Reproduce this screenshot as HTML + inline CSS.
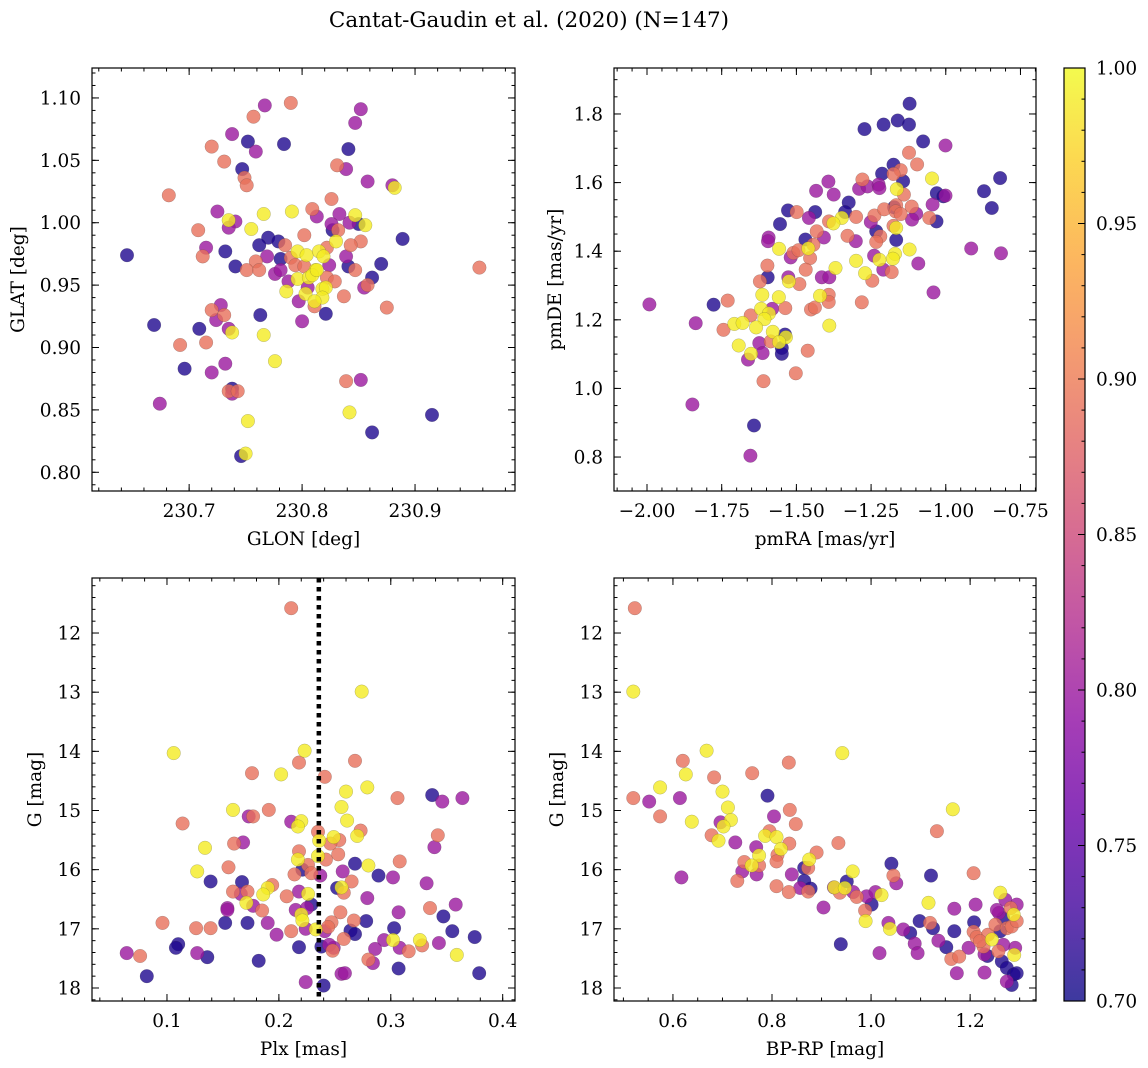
<!DOCTYPE html>
<html><head><meta charset="utf-8"><title>Cantat-Gaudin et al. (2020)</title>
<style>
html,body{margin:0;padding:0;background:#fff;}
svg{display:block;font-family:"DejaVu Serif","Liberation Serif",serif;}
</style></head>
<body>
<svg id="fig" width="1148" height="1068" viewBox="0 0 1148 1068" xmlns="http://www.w3.org/2000/svg">
<defs>
<linearGradient id="cbgrad" x1="0" y1="1" x2="0" y2="0">
<stop offset="0" stop-color="#0d0887"/><stop offset="0.1" stop-color="#41049d"/><stop offset="0.2" stop-color="#6a00a8"/><stop offset="0.3" stop-color="#8f0da4"/><stop offset="0.4" stop-color="#b12a90"/><stop offset="0.5" stop-color="#cc4778"/><stop offset="0.6" stop-color="#e16462"/><stop offset="0.7" stop-color="#f2844b"/><stop offset="0.8" stop-color="#fca636"/><stop offset="0.9" stop-color="#fcce25"/><stop offset="1" stop-color="#f0f921"/>
</linearGradient>
</defs>
<text x="529" y="27" text-anchor="middle" font-size="21.5">Cantat-Gaudin et al. (2020) (N=147)</text>
<g id="panels"></g>
<g id="colorbar">
<rect x="1064" y="68" width="21" height="933" fill="url(#cbgrad)" opacity="0.8"/>
<rect x="1064" y="68" width="21" height="933" fill="none" stroke="#000" stroke-width="1.2"/>
</g>
</svg>
<script>
// ---------- data ----------
const glon=[230.767,230.790,230.757,230.852,230.847,230.738,230.752,230.720,230.784,230.759,230.841,230.731,230.747,230.831,230.839,230.749,230.751,230.858,230.880,230.882,230.682,230.826,230.725,230.735,230.741,230.735,230.766,230.791,230.809,230.813,230.833,230.847,230.826,230.842,230.850,230.856,230.827,230.832,230.708,230.755,230.802,230.889,230.770,230.762,230.779,230.830,230.852,230.843,230.715,230.785,230.732,230.645,230.712,230.769,230.781,230.790,230.796,230.804,230.815,230.819,230.822,230.839,230.759,230.751,230.762,230.776,230.781,230.741,230.794,230.802,230.812,230.824,230.841,230.847,230.870,230.957,230.788,230.796,230.806,230.809,230.813,230.822,230.829,230.862,230.858,230.855,230.786,230.805,230.803,230.818,230.821,230.818,230.837,230.797,230.811,230.811,230.875,230.821,230.800,230.763,230.720,230.728,230.731,230.724,230.669,230.709,230.735,230.738,230.766,230.692,230.715,230.776,230.696,230.732,230.720,230.839,230.852,230.738,230.735,230.743,230.738,230.674,230.842,230.915,230.752,230.862,230.746,230.750];
const glat=[1.094,1.096,1.085,1.091,1.080,1.071,1.065,1.061,1.063,1.057,1.059,1.049,1.043,1.046,1.043,1.036,1.030,1.033,1.030,1.028,1.022,1.019,1.009,1.002,1.001,0.996,1.007,1.009,1.011,1.005,1.007,1.006,0.999,1.000,0.999,0.998,0.994,0.994,0.994,0.995,0.990,0.987,0.988,0.982,0.985,0.985,0.985,0.982,0.980,0.982,0.977,0.974,0.973,0.973,0.971,0.972,0.977,0.974,0.977,0.973,0.980,0.973,0.969,0.962,0.962,0.959,0.962,0.965,0.966,0.965,0.962,0.966,0.965,0.962,0.967,0.964,0.953,0.955,0.956,0.958,0.962,0.956,0.953,0.956,0.950,0.948,0.945,0.948,0.943,0.947,0.948,0.940,0.941,0.937,0.937,0.933,0.932,0.927,0.921,0.926,0.930,0.934,0.926,0.922,0.918,0.915,0.915,0.912,0.910,0.902,0.904,0.889,0.883,0.887,0.880,0.873,0.874,0.867,0.865,0.865,0.863,0.855,0.848,0.846,0.841,0.832,0.813,0.815];
const prob1=[.8,.89,.89,.8,.8,.8,.71,.89,.71,.8,.71,.89,.71,.89,.8,.89,.89,.8,.8,.99,.89,.89,.8,.99,.8,.8,.99,.99,.89,.8,.8,.99,.8,.8,.71,.99,.71,.89,.89,.99,.89,.71,.71,.71,.71,.99,.89,.89,.8,.89,.71,.71,.89,.8,.71,.89,.99,.99,.99,.99,.89,.8,.89,.89,.89,.8,.8,.71,.89,.89,.99,.8,.71,.89,.71,.89,.8,.99,.99,.99,.99,.89,.89,.71,.89,.8,.99,.8,.99,.99,.99,.99,.89,.8,.99,.89,.89,.71,.8,.71,.89,.8,.89,.8,.71,.71,.8,.99,.99,.89,.89,.99,.71,.8,.8,.89,.8,.71,.89,.89,.8,.8,.99,.71,.99,.71,.71,.99];

const pmra=[-1.121,-1.272,-1.208,-1.161,-1.123,-1.076,-1.001,-1.123,-1.096,-1.175,-1.151,-1.213,-1.175,-1.046,-0.818,-1.279,-1.143,-1.393,-1.434,-1.375,-1.290,-1.262,-1.225,-1.222,-1.164,-1.140,-1.030,-1.001,-1.008,-0.872,-0.846,-1.325,-1.528,-1.499,-1.437,-1.337,-1.348,-1.458,-1.555,-1.391,-1.376,-1.300,-1.251,-1.239,-1.206,-1.173,-1.166,-1.168,-1.151,-1.114,-1.099,-1.113,-1.044,-1.055,-1.031,-1.432,-1.408,-1.329,-1.233,-1.219,-1.301,-1.233,-1.166,-1.175,-1.166,-1.593,-1.595,-1.470,-1.460,-1.443,-1.558,-1.519,-1.510,-1.493,-1.454,-1.300,-1.240,-1.222,-1.170,-1.177,-1.121,-1.092,-0.915,-0.815,-1.597,-1.469,-1.369,-1.270,-1.209,-1.181,-1.596,-1.622,-1.527,-1.525,-1.490,-1.415,-1.390,-1.246,-1.614,-1.559,-1.421,-1.392,-1.392,-1.281,-1.041,-1.730,-1.777,-1.992,-1.537,-1.618,-1.581,-1.592,-1.607,-1.451,-1.438,-1.837,-1.708,-1.680,-1.653,-1.635,-1.744,-1.390,-1.579,-1.538,-1.535,-1.586,-1.558,-1.624,-1.693,-1.549,-1.613,-1.549,-1.462,-1.652,-1.662,-1.502,-1.610,-1.848,-1.642,-1.654];
const pmde=[1.830,1.756,1.769,1.781,1.769,1.720,1.708,1.687,1.653,1.652,1.636,1.626,1.625,1.612,1.613,1.609,1.604,1.603,1.576,1.565,1.582,1.589,1.594,1.584,1.581,1.565,1.569,1.562,1.560,1.575,1.526,1.542,1.519,1.514,1.514,1.514,1.497,1.497,1.479,1.487,1.481,1.500,1.485,1.504,1.522,1.528,1.534,1.516,1.508,1.530,1.509,1.492,1.536,1.497,1.487,1.458,1.440,1.445,1.458,1.443,1.429,1.427,1.468,1.474,1.433,1.440,1.429,1.434,1.408,1.419,1.407,1.382,1.395,1.403,1.380,1.372,1.387,1.375,1.392,1.378,1.405,1.364,1.408,1.394,1.358,1.346,1.351,1.336,1.346,1.339,1.324,1.312,1.324,1.312,1.304,1.324,1.324,1.314,1.273,1.266,1.270,1.273,1.252,1.251,1.280,1.256,1.244,1.245,1.234,1.232,1.232,1.218,1.202,1.230,1.236,1.190,1.188,1.191,1.213,1.178,1.171,1.183,1.165,1.157,1.149,1.137,1.135,1.132,1.125,1.118,1.103,1.101,1.110,1.101,1.084,1.044,1.021,0.953,0.892,0.804];
const prob2=[.71,.71,.71,.71,.71,.71,.8,.89,.89,.71,.89,.71,.89,.99,.71,.89,.71,.8,.8,.8,.8,.8,.8,.8,.99,.89,.71,.8,.71,.71,.71,.71,.71,.89,.71,.71,.99,.8,.71,.89,.99,.89,.8,.89,.89,.71,.89,.89,.89,.89,.8,.8,.8,.89,.71,.89,.8,.89,.71,.89,.8,.89,.99,.89,.71,.8,.8,.71,.99,.89,.99,.8,.89,.89,.89,.99,.8,.99,.99,.99,.99,.8,.8,.8,.89,.89,.99,.99,.8,.89,.71,.89,.8,.99,.89,.8,.8,.89,.99,.99,.99,.89,.89,.89,.8,.89,.71,.8,.89,.99,.8,.99,.99,.89,.89,.8,.99,.99,.89,.99,.89,.99,.99,.71,.99,.89,.99,.8,.99,.71,.8,.71,.89,.99,.8,.89,.89,.8,.71,.8];

const plx=[0.211,0.274,0.106,0.223,0.218,0.268,0.176,0.202,0.241,0.260,0.279,0.306,0.337,0.346,0.364,0.159,0.191,0.173,0.177,0.256,0.114,0.211,0.220,0.217,0.261,0.273,0.235,0.249,0.254,0.246,0.236,0.270,0.342,0.339,0.134,0.160,0.168,0.253,0.218,0.217,0.235,0.242,0.226,0.308,0.268,0.280,0.155,0.127,0.214,0.221,0.229,0.237,0.257,0.289,0.302,0.139,0.167,0.194,0.190,0.186,0.265,0.252,0.256,0.258,0.332,0.159,0.172,0.166,0.207,0.218,0.226,0.279,0.229,0.171,0.177,0.154,0.154,0.185,0.215,0.225,0.220,0.255,0.335,0.358,0.307,0.221,0.347,0.096,0.152,0.172,0.190,0.247,0.267,0.278,0.126,0.139,0.211,0.224,0.233,0.244,0.241,0.264,0.268,0.303,0.355,0.198,0.258,0.294,0.302,0.326,0.328,0.343,0.375,0.110,0.108,0.218,0.238,0.249,0.245,0.286,0.308,0.316,0.359,0.064,0.076,0.127,0.136,0.182,0.248,0.280,0.284,0.307,0.082,0.256,0.259,0.224,0.240,0.379];
const gmag3=[11.58,12.99,14.03,13.99,14.19,14.16,14.37,14.39,14.43,14.68,14.61,14.79,14.74,14.85,14.79,14.99,14.99,15.10,15.10,14.94,15.22,15.19,15.18,15.27,15.17,15.34,15.36,15.45,15.50,15.56,15.51,15.43,15.42,15.62,15.63,15.56,15.54,15.74,15.69,15.83,15.77,15.83,15.92,15.86,15.90,15.93,15.96,16.03,16.08,16.00,16.06,16.10,16.03,16.10,16.13,16.20,16.21,16.26,16.31,16.42,16.20,16.31,16.30,16.39,16.23,16.37,16.37,16.41,16.45,16.37,16.41,16.48,16.59,16.56,16.61,16.65,16.68,16.69,16.68,16.65,16.76,16.72,16.65,16.59,16.72,16.86,16.79,16.90,16.90,16.90,16.90,16.89,16.86,16.87,16.99,16.99,17.04,17.00,17.01,16.97,17.04,17.03,17.09,16.99,17.04,17.10,17.17,17.19,17.19,17.19,17.28,17.24,17.14,17.26,17.32,17.31,17.30,17.32,17.27,17.34,17.32,17.38,17.44,17.41,17.46,17.41,17.48,17.54,17.37,17.52,17.58,17.67,17.80,17.76,17.75,17.90,17.96,17.75];
const prob3=[.89,.99,.99,.99,.89,.89,.89,.99,.89,.99,.99,.89,.71,.8,.8,.99,.89,.8,.89,.99,.89,.8,.99,.99,.99,.89,.89,.99,.89,.89,.99,.99,.89,.8,.99,.89,.8,.89,.89,.99,.99,.89,.89,.89,.71,.99,.89,.99,.89,.71,.89,.8,.8,.71,.8,.71,.71,.89,.99,.99,.89,.71,.99,.89,.8,.89,.89,.8,.89,.8,.99,.8,.71,.99,.8,.8,.8,.89,.8,.8,.99,.89,.89,.8,.8,.99,.71,.89,.71,.71,.8,.89,.89,.71,.89,.89,.89,.8,.99,.89,.8,.71,.71,.71,.71,.8,.89,.8,.99,.99,.89,.8,.71,.71,.71,.71,.71,.8,.8,.8,.8,.89,.99,.8,.89,.8,.71,.71,.89,.89,.8,.71,.71,.8,.8,.8,.71,.71];

const bprp=[0.523,0.520,0.668,0.620,0.942,0.834,0.626,0.683,0.760,0.574,0.520,0.552,0.614,0.791,0.700,0.711,0.574,0.638,0.717,0.696,0.702,0.804,0.836,0.848,1.165,0.678,0.692,0.726,0.795,0.786,0.809,0.818,0.811,0.809,0.835,0.890,0.934,1.133,0.768,0.774,0.744,0.759,0.774,0.769,0.740,0.730,0.875,0.865,0.873,1.041,1.045,1.051,1.121,0.963,1.207,0.617,0.840,0.809,0.865,0.878,0.857,0.873,0.834,0.926,0.937,0.951,0.947,0.964,0.971,0.925,0.991,1.009,1.021,1.001,0.988,0.989,0.904,1.035,1.038,1.065,1.079,1.098,1.119,1.125,1.116,1.168,1.211,1.208,1.168,1.136,1.088,1.094,1.017,0.939,1.152,1.162,1.178,1.173,1.197,1.207,1.213,1.227,1.236,1.229,1.235,1.229,1.244,1.251,1.258,1.261,1.271,1.254,1.267,1.274,1.284,1.294,1.288,1.294,1.282,1.291,1.289,1.261,1.267,1.264,1.274,1.288,1.294,1.274,1.284,1.257,1.220];
const gmag4=[11.58,12.99,13.99,14.16,14.03,14.19,14.39,14.44,14.37,14.61,14.79,14.85,14.79,14.75,14.68,14.95,15.10,15.19,15.16,15.20,15.27,15.10,14.99,15.23,14.98,15.42,15.51,15.54,15.35,15.43,15.45,15.65,15.75,15.86,15.56,15.71,15.55,15.35,15.62,15.76,15.87,15.93,15.93,16.08,16.03,16.19,15.83,15.97,15.97,15.90,16.10,16.23,16.10,16.03,16.06,16.13,16.08,16.28,16.19,16.32,16.31,16.37,16.38,16.30,16.39,16.20,16.31,16.38,16.46,16.30,16.45,16.38,16.43,16.59,16.69,16.87,16.64,16.90,17.00,17.01,17.07,16.87,16.90,16.99,16.56,16.66,16.59,16.89,17.04,17.20,17.25,17.41,17.41,17.26,17.31,17.51,17.47,17.75,17.32,17.05,17.14,17.30,17.10,17.43,17.46,17.74,17.18,16.93,16.73,16.39,16.51,16.68,16.82,16.99,16.96,16.87,16.76,16.59,16.65,17.32,17.44,17.04,17.27,17.55,17.66,17.77,17.75,17.89,17.95,17.38,17.21];
const prob4=[.89,.99,.99,.89,.99,.89,.99,.89,.89,.99,.89,.8,.8,.71,.99,.99,.89,.99,.99,.8,.99,.8,.89,.89,.99,.89,.99,.8,.89,.99,.99,.99,.89,.89,.89,.89,.89,.89,.8,.99,.89,.99,.89,.8,.8,.89,.99,.71,.89,.71,.89,.8,.71,.99,.89,.8,.8,.89,.71,.71,.8,.89,.89,.99,.89,.71,.99,.8,.89,.8,.8,.8,.99,.71,.89,.99,.8,.8,.99,.8,.71,.71,.89,.71,.99,.8,.8,.71,.71,.8,.8,.8,.8,.71,.71,.89,.89,.8,.8,.89,.89,.89,.89,.8,.71,.8,.99,.89,.8,.99,.8,.8,.71,.89,.89,.89,.99,.8,.89,.8,.99,.71,.8,.71,.71,.71,.71,.8,.71,.89,.89];

const xTicks1=[230.7,230.8,230.9], yTicks1=[0.80,0.85,0.90,0.95,1.00,1.05,1.10];
const xTicks2=[-2.00,-1.75,-1.50,-1.25,-1.00,-0.75], yTicks2=[0.8,1.0,1.2,1.4,1.6,1.8];
const xTicks3=[0.1,0.2,0.3,0.4], yTicks3=[12,13,14,15,16,17,18];
const xTicks4=[0.6,0.8,1.0,1.2], yTicks4=yTicks3;
const cbTicks=[0.70,0.75,0.80,0.85,0.90,0.95,1.00];
const plxMedian=0.2357;

// ---------- helpers ----------
const NS="http://www.w3.org/2000/svg";
const FS=18.5;
function mk(tag,attrs,parent){const e=document.createElementNS(NS,tag);for(const k in attrs)e.setAttribute(k,attrs[k]);if(parent)parent.appendChild(e);return e;}
const plasma=["#0d0887","#41049d","#6a00a8","#8f0da4","#b12a90","#cc4778","#e16462","#f2844b","#fca636","#fcce25","#f0f921"];
function hex(h){return [parseInt(h.slice(1,3),16),parseInt(h.slice(3,5),16),parseInt(h.slice(5,7),16)];}
function cmap(p){let t=(p-0.7)/0.3;t=Math.max(0,Math.min(1,t));const f=t*10,i=Math.min(9,Math.floor(f)),r=f-i;const a=hex(plasma[i]),b=hex(plasma[i+1]);return "rgb("+a.map((v,k)=>Math.round(v+(b[k]-v)*r)).join(",")+")";}
function fmt(v,d){return (v<0?"\u2212":"")+Math.abs(v).toFixed(d);}
function ticksRange(lo,hi,step){const out=[];const s=Math.ceil(lo/step-1e-6);for(let k=s;k*step<=hi+1e-9;k++)out.push(k*step);return out;}

const root=document.getElementById("panels");
function panel(cfg){
  const g=mk("g",{},root);
  
  
  const [L,T,R,B]=cfg.box;
  const sx=v=>L+(v-cfg.xd[0])/(cfg.xd[1]-cfg.xd[0])*(R-L);
  const sy=cfg.inv? v=>T+(v-cfg.yd[0])/(cfg.yd[1]-cfg.yd[0])*(B-T) : v=>B-(v-cfg.yd[0])/(cfg.yd[1]-cfg.yd[0])*(B-T);
  const clip=mk("clipPath",{id:"clip-"+cfg.name},g);
  mk("rect",{x:L,y:T,width:R-L,height:B-T},clip);
  const pts=mk("g",{"clip-path":"url(#clip-"+cfg.name+")"},g);
  
  
  const idx=cfg.x.map((_,i)=>i).sort((a,b)=>cfg.p[a]-cfg.p[b]);
  idx.forEach(i=>{
    const c=mk("circle",{cx:sx(cfg.x[i]).toFixed(1),cy:sy(cfg.y[i]).toFixed(1),r:6.8,fill:cmap(cfg.p[i]),"fill-opacity":0.8,stroke:"rgba(60,60,60,0.35)","stroke-width":0.5},pts);
    
    
  });
  if(cfg.vline!==undefined){
    const ln=mk("line",{x1:sx(cfg.vline),x2:sx(cfg.vline),y1:T,y2:B,stroke:"#000","stroke-width":4.5,"stroke-dasharray":"4.5 4.5"},g);
    
    
  }
  const fr=mk("rect",{x:L,y:T,width:R-L,height:B-T,fill:"none",stroke:"#000","stroke-width":1.2},g);
  
  
  const tk=mk("g",{stroke:"#000","stroke-width":1},g);
  ticksRange(cfg.xd[0],cfg.xd[1],cfg.xminor).forEach(v=>{const x=sx(v);mk("line",{x1:x,x2:x,y1:B,y2:B-3.5},tk);mk("line",{x1:x,x2:x,y1:T,y2:T+3.5},tk);});
  ticksRange(cfg.yd[0],cfg.yd[1],cfg.yminor).forEach(v=>{const y=sy(v);mk("line",{x1:L,x2:L+3.5,y1:y,y2:y},tk);mk("line",{x1:R,x2:R-3.5,y1:y,y2:y},tk);});
  cfg.xt.forEach(v=>{const x=sx(v);mk("line",{x1:x,x2:x,y1:B,y2:B-7},tk);mk("line",{x1:x,x2:x,y1:T,y2:T+7},tk);
    const t=mk("text",{x:x,y:B+26,"text-anchor":"middle","font-size":FS},g);t.textContent=fmt(v,cfg.xdec);
    
    });
  cfg.yt.forEach(v=>{const y=sy(v);mk("line",{x1:L,x2:L+7,y1:y,y2:y},tk);mk("line",{x1:R,x2:R-7,y1:y,y2:y},tk);
    const t=mk("text",{x:L-11,y:y+6.5,"text-anchor":"end","font-size":FS},g);t.textContent=fmt(v,cfg.ydec);
    
    });
  const xl=mk("text",{x:(L+R)/2,y:B+54,"text-anchor":"middle","font-size":FS},g);xl.textContent=cfg.xlab;
  
  
  const yx=cfg.ylx, yy=(T+B)/2;
  const yl=mk("text",{x:yx,y:yy,"text-anchor":"middle","font-size":FS,transform:"rotate(-90 "+yx+" "+yy+")"},g);yl.textContent=cfg.ylab;
  
  
}
panel({name:"glon-glat-panel",box:[92,68,515,491],xd:[230.614,230.9885],yd:[0.785,1.124],x:glon,y:glat,p:prob1,xt:xTicks1,yt:yTicks1,xminor:0.02,yminor:0.01,xdec:1,ydec:2,xlab:"GLON [deg]",ylab:"GLAT [deg]",ylx:24});
panel({name:"pm-panel",box:[614,68,1036,491],xd:[-2.1105,-0.698],yd:[0.701,1.934],x:pmra,y:pmde,p:prob2,xt:xTicks2,yt:yTicks2,xminor:0.05,yminor:0.05,xdec:2,ydec:1,xlab:"pmRA [mas/yr]",ylab:"pmDE [mas/yr]",ylx:561});
panel({name:"plx-g-panel",box:[92,578,515,1001],xd:[0.033,0.411],yd:[11.07,18.22],inv:true,x:plx,y:gmag3,p:prob3,xt:xTicks3,yt:yTicks3,xminor:0.02,yminor:0.2,xdec:1,ydec:0,xlab:"Plx [mas]",ylab:"G [mag]",ylx:41,vline:plxMedian});
panel({name:"cmd-panel",box:[614,578,1036,1001],xd:[0.481,1.333],yd:[11.07,18.22],inv:true,x:bprp,y:gmag4,p:prob4,xt:xTicks4,yt:yTicks4,xminor:0.05,yminor:0.2,xdec:1,ydec:0,xlab:"BP-RP [mag]",ylab:"G [mag]",ylx:563});

// colorbar ticks
const cb=document.getElementById("colorbar");
const cy=v=>1001-(v-0.7)/0.3*933;
for(let k=70;k<=100;k++){const y=cy(k/100);const major=k%5===0;mk("line",{x1:1085,x2:major?1078:1081.5,y1:y,y2:y,stroke:"#000","stroke-width":1},cb);}
cbTicks.forEach(v=>{const t=mk("text",{x:1096,y:cy(v)+6.5,"font-size":FS},cb);t.textContent=v.toFixed(2);
  
  });
</script>
</body></html>
